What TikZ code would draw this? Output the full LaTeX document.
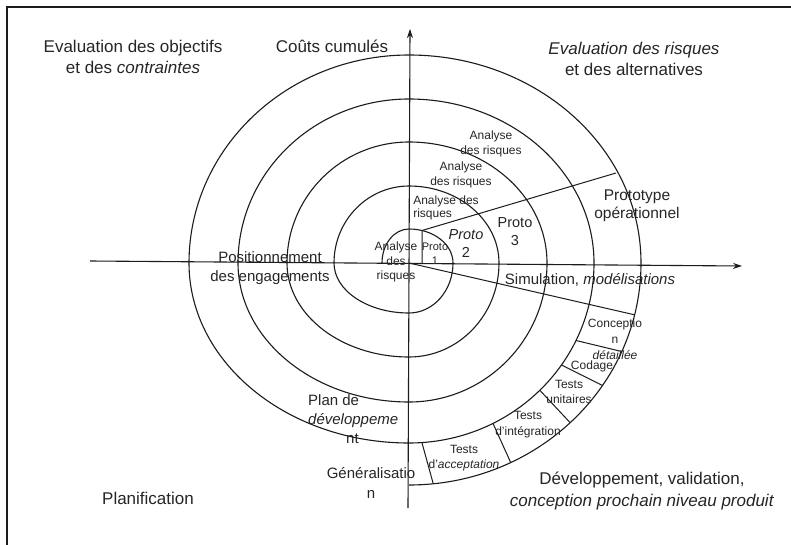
\documentclass[tikz,border=0pt]{standalone}
\usepackage{fontspec}
\setmainfont{Liberation Sans}
\usetikzlibrary{arrows.meta,calc}
\definecolor{ink}{HTML}{1C1C1C}
\definecolor{txt}{HTML}{262626}
\tikzset{
  frameline/.style={draw=ink, line width=1.6pt},
  axisline/.style={draw=ink, line width=1.1pt, -{Stealth[length=9pt,width=6pt]}},
  ringline/.style={draw=ink, line width=1.1pt},
  divline/.style={draw=ink, line width=1.0pt},
  biglbl/.style={font=\fontsize{17}{21.5}\selectfont, text=txt, align=center, inner sep=0pt},
  midlbl/.style={font=\fontsize{15}{19.5}\selectfont, text=txt, align=center, inner sep=0pt},
  smllbl/.style={font=\fontsize{12}{14.5}\selectfont, text=txt, align=center, inner sep=0pt},
}
\begin{document}
\begin{tikzpicture}[x=1pt,y=-1pt]
\useasboundingbox (0,0) rectangle (791,545);
\fill[white] (0,0) rectangle (791,545);

% frame
\coordinate (fTR) at (791,7);
\coordinate (fTL) at (7,7);
\coordinate (fBL) at (7,545);
\draw[frameline] (fTR) -- (fTL) -- (fBL);

% axes
\coordinate (O) at (409,263);
\coordinate (hL) at (90,261);
\coordinate (hR) at (742,266);
\coordinate (vB) at (408,508);
\coordinate (vT) at (410,29);
\draw[axisline] (hL) -- (hR);
\draw[axisline] (vB) -- (vT);

% spiral
\coordinate (s0) at (382,263);
\draw[ringline] (s0)
  arc[start angle=180,end angle=90,x radius=27pt,y radius=34pt]
  arc[start angle=90,end angle=0,x radius=44pt,y radius=34pt]
  arc[start angle=0,end angle=-90,x radius=44pt,y radius=50pt]
  arc[start angle=-90,end angle=-180,x radius=75pt,y radius=50pt]
  arc[start angle=180,end angle=90,x radius=75pt,y radius=77pt]
  arc[start angle=90,end angle=0,x radius=90pt,y radius=77pt]
  arc[start angle=0,end angle=-90,x radius=90pt,y radius=94pt]
  arc[start angle=-90,end angle=-180,x radius=122pt,y radius=94pt]
  arc[start angle=180,end angle=90,x radius=122pt,y radius=121pt]
  arc[start angle=90,end angle=0,x radius=138pt,y radius=121pt]
  arc[start angle=0,end angle=-90,x radius=138pt,y radius=139pt]
  arc[start angle=-90,end angle=-180,x radius=171pt,y radius=139pt]
  arc[start angle=180,end angle=90,x radius=171pt,y radius=164pt]
  arc[start angle=90,end angle=0,x radius=185pt,y radius=164pt]
  arc[start angle=0,end angle=-90,x radius=185pt,y radius=180pt]
  arc[start angle=-90,end angle=-180,x radius=220pt,y radius=180pt]
  arc[start angle=180,end angle=90,x radius=220pt,y radius=208pt]
  arc[start angle=90,end angle=0,x radius=232pt,y radius=208pt]
  arc[start angle=0,end angle=-90,x radius=232pt,y radius=222pt];

% risk-analysis / prototype separators
\coordinate (uV) at (422,263);
\coordinate (uA) at (422,230.5);
\coordinate (uB) at (616,173);
\draw[divline] (uV) -- (uA) -- (uB);

% simulation line
\coordinate (lB) at ({409+232*cos(13.5)},{263+222*sin(13.5)});
\draw[divline] (O) -- (lB);

% band dividers (development phases)
\coordinate (bI) at ({409+185*cos(25.5)},{263+180*sin(25.5)});
\coordinate (bO) at ({409+232*cos(23.5)},{263+222*sin(23.5)});
\coordinate (cI) at ({409+185*cos(34.5)},{263+180*sin(34.5)});
\coordinate (cO) at ({409+232*cos(33.5)},{263+222*sin(33.5)});
\coordinate (dI) at ({409+185*cos(45)},{263+180*sin(45)});
\coordinate (dO) at ({409+232*cos(46)},{263+222*sin(46)});
\coordinate (eI) at ({409+185*cos(63)},{263+180*sin(63)});
\coordinate (eO) at ({409+232*cos(64)},{263+222*sin(64)});
\coordinate (gI) at ({409+185*cos(86)},{263+180*sin(86)});
\coordinate (gO) at ({409+232*cos(84)},{263+222*sin(84)});
\draw[divline] (bI) -- (bO);
\draw[divline] (cI) -- (cO);
\draw[divline] (dI) -- (dO);
\draw[divline] (eI) -- (eO);
\draw[divline] (gI) -- (gO);

% quadrant labels
\node[biglbl] (qTL) at (133,57) {Evaluation des objectifs\\et des \textit{contraintes}};
\node[biglbl] (cost) at (332,46) {Coûts cumulés};
\node[biglbl] (qTR) at (634,59) {\textit{Evaluation des risques}\\et des alternatives};
\node[biglbl] (qBL) at (148,498) {Planification};
\node[biglbl] (qBR) at (642,491) {Développement, validation,\\\textit{conception prochain niveau produit}};

% inner labels
\node[midlbl] (pos) at (270,268) {Positionnement\\des engagements};
\node[smllbl] (ar0) at (396,262) {Analyse\\des\\risques};
\node[font=\fontsize{11}{14}\selectfont, text=txt, align=center, inner sep=0pt] (p1) at (435,254) {Proto\\1};
\node[midlbl, font=\fontsize{14.5}{18}\selectfont] (p2) at (466,244) {\textit{Proto}\\2};
\node[midlbl, font=\fontsize{14.5}{18}\selectfont] (p3) at (515,232) {Proto\\3};
\node[smllbl, align=left, font=\fontsize{12}{13}\selectfont] (ar1) at (446,208) {Analyse des\\risques};
\node[smllbl] (ar2) at (461,175) {Analyse\\des risques};
\node[smllbl] (ar3) at (491,144) {Analyse\\des risques};
\node[midlbl, font=\fontsize{15.5}{18}\selectfont] (proto) at (637,206) {Prototype\\opérationnel};
\node[midlbl] (sim) at (590,280) {Simulation, \textit{modélisations}};

% development phases
\node[smllbl, font=\fontsize{12}{16}\selectfont] (conc) at (615,339) {Conceptio\\n\\\textit{détaillée}};
\node[smllbl] (cod) at (592,366) {Codage};
\node[smllbl] (tu) at (569,392) {Tests\\unitaires};
\node[smllbl, font=\fontsize{12}{16}\selectfont] (ti) at (528,425) {Tests\\d'intégration};
\node[smllbl] (ta) at (464,458) {Tests\\d'\textit{acceptation}};
\node[midlbl, font=\fontsize{15}{20}\selectfont] (gen) at (371,483) {Généralisatio\\n};
\node[midlbl, align=left, font=\fontsize{15}{19}\selectfont, anchor=north west] (plan) at (308,394) {Plan de\\\textit{développeme}\\\hspace*{38pt}nt};
\end{tikzpicture}
\end{document}
